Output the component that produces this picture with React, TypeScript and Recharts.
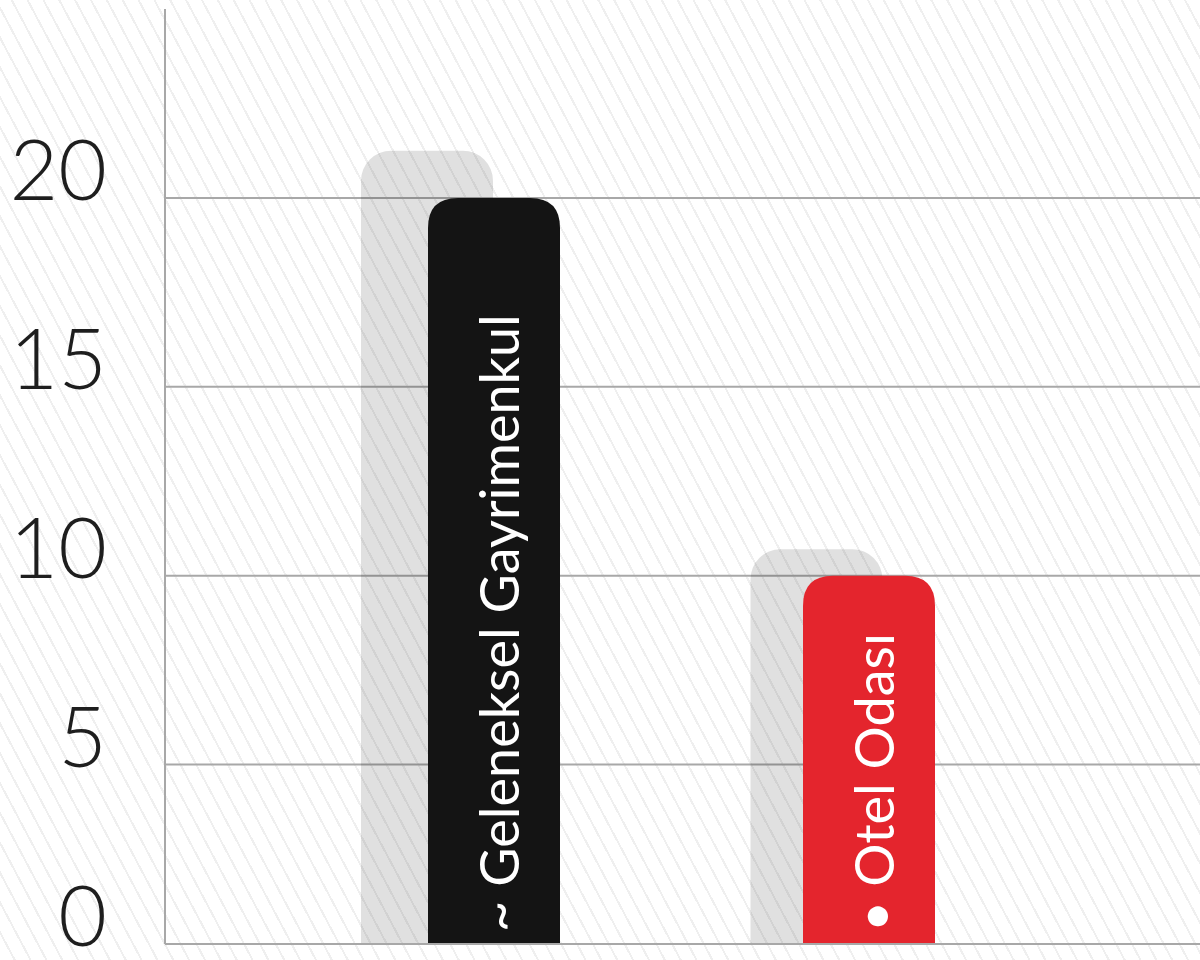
import React from 'react';
import { BarChart, Bar, XAxis, YAxis, CartesianGrid, LabelList, ReferenceLine } from 'recharts';

const categories = ['Geleneksel Gayrimenkul', 'Otel Odası'];
const labelMarks = ['~', '•'];
const values = [20, 10];
const shadowValues = [21.25, 10.7];
const barColors = ['#141414', '#e4252d'];
const yTicks = [0, 5, 10, 15, 20];
const gridValues = [5, 10, 15, 20];
const yMin = 0.25;

const data = categories.map((name, i) => ({
  name,
  label: `${labelMarks[i]} ${name}`,
  value: values[i],
  shadow: shadowValues[i],
  color: barColors[i],
}));

const MainBar = (props: any) => {
  const { x, y, width, height, payload } = props;
  const r = 30;
  const d = `M${x},${y + height} L${x},${y + r} Q${x},${y} ${x + r},${y} L${x + width - r},${y} Q${x + width},${y} ${x + width},${y + r} L${x + width},${y + height} Z`;
  return <path d={d} fill={payload.color} />;
};

const BarText = (props: any) => {
  const { x, y, width, height, value } = props;
  const tx = x + width / 2 + 25;
  const ty = y + height - 12;
  return (
    <text
      x={tx}
      y={ty}
      transform={`rotate(-90 ${tx} ${ty})`}
      fill="#fff"
      fontSize={54}
      fontFamily="Lato, sans-serif"
      textAnchor="start"
    >
      {value}
    </text>
  );
};

// the zero label sits on the axis line, just like the original
const YTick = (props: any) => {
  const { y, payload } = props;
  const ty = Math.min(y, 944) + 2;
  return (
    <text x={107} y={ty} textAnchor="end" fill="#1e1e1e" fontSize={84} fontFamily="Lato, sans-serif" fontWeight={300}>
      {payload.value}
    </text>
  );
};

export default function App() {
  return (
    <div
      style={{
        position: 'fixed',
        left: 0,
        top: 0,
        width: 1200,
        height: 960,
        background: 'repeating-linear-gradient(62deg, #ffffff 0px, #ffffff 12px, #efefef 12px, #efefef 14px)',
      }}
    >
      <BarChart width={1200} height={960} data={data} margin={{ top: 9, right: 0, left: 0, bottom: 16 }}>
        <CartesianGrid vertical={false} horizontalValues={gridValues} stroke="#a8a8a8" strokeWidth={2} />
        <XAxis xAxisId="main" dataKey="name" hide padding={{ left: 141, right: 144 }} />
        <XAxis xAxisId="shadow" dataKey="name" hide padding={{ left: 67, right: 189 }} />
        <YAxis
          width={165}
          domain={[yMin, 25]}
          allowDataOverflow
          ticks={yTicks}
          interval={0}
          tickLine={false}
          axisLine={{ stroke: '#a8a8a8', strokeWidth: 2 }}
          tick={<YTick />}
        />
        <Bar
          xAxisId="shadow"
          dataKey="shadow"
          barSize={132}
          fill="#000"
          fillOpacity={0.12}
          radius={[30, 30, 0, 0]}
          isAnimationActive={false}
        />
        <Bar xAxisId="main" dataKey="value" barSize={132} shape={<MainBar />} isAnimationActive={false}>
          <LabelList dataKey="label" content={<BarText />} />
        </Bar>
        <ReferenceLine xAxisId="main" y={yMin} stroke="#a8a8a8" strokeWidth={2} />
      </BarChart>
    </div>
  );
}
